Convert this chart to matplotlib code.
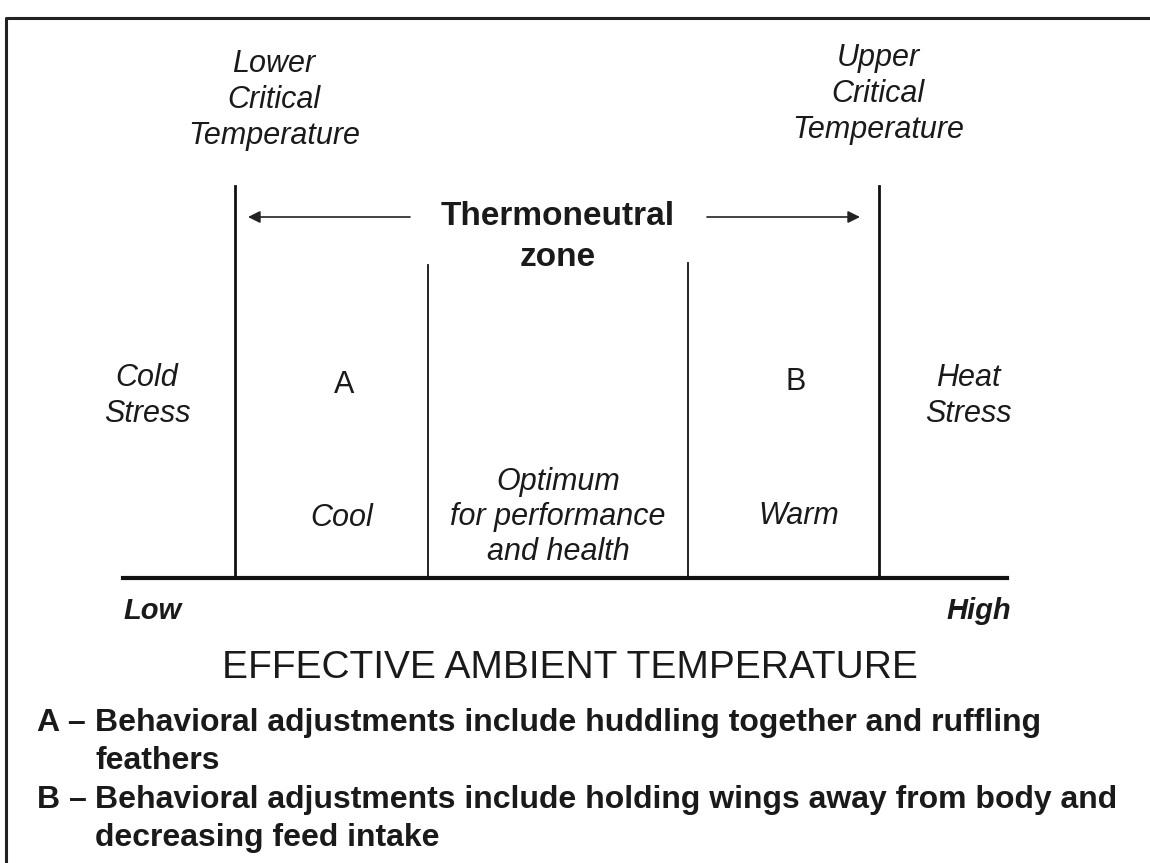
import matplotlib.pyplot as plt

# zone boundaries along the temperature axis (diagram units, low -> high)
boundaries = [235, 428, 688, 879]
boundary_tops = [186, 265, 263, 186]
axis_span = (123, 1007)
axis_y = 578

critical_labels = ["Lower\nCritical\nTemperature", "Upper\nCritical\nTemperature"]
zone_labels = ["Cold\nStress", "A", "B", "Heat\nStress"]
zone_comments = ["Cool", "Optimum\nfor performance\nand health", "Warm"]
note_keys = ["A \u2013", "B \u2013"]
notes = [
    ["Behavioral adjustments include huddling together and ruffling", "feathers"],
    ["Behavioral adjustments include holding wings away from body and",
     "decreasing feed intake"],
]

sans = "Liberation Sans"
ink = "#1a1a1a"

fig = plt.figure(figsize=(11.5, 8.63), dpi=100)
ax = fig.add_axes([0, 0, 1, 1])
ax.set_xlim(0, 1150)
ax.set_ylim(863, 0)
ax.axis("off")

# outer frame (only left and top visible)
ax.plot([6, 6, 1150], [863, 18, 18], color="#222222", lw=2.2, solid_capstyle="butt")

# baseline
ax.plot(axis_span, [axis_y, axis_y], color="#111111", lw=3)

# vertical zone lines
for x, top in zip(boundaries, boundary_tops):
    lw = 2.0 if top < 200 else 1.3
    ax.plot([x, x], [top, axis_y], color="#111111", lw=lw)

# arrows for thermoneutral zone
arrow = dict(arrowstyle="-|>", color="#222222", lw=1.2,
             mutation_scale=18, shrinkA=0, shrinkB=0)
ax.annotate("", xy=(boundaries[0] + 13, 217), xytext=(410, 217), arrowprops=arrow)
ax.annotate("", xy=(boundaries[3] - 19, 217), xytext=(707, 217), arrowprops=arrow)

ax.text(558, 237, "Thermoneutral\nzone", ha="center", va="center",
        fontsize=24, fontweight="bold", family=sans, linespacing=1.38, color=ink)

# critical temperature labels
for x, y, t in zip([274, 878], [100, 94], critical_labels):
    ax.text(x, y, t, ha="center", va="center", fontsize=22, style="italic",
            family=sans, linespacing=1.24, color=ink)

# zone labels
for x, y, t in zip([147, 344, 796, 968], [396, 385, 382, 396], zone_labels):
    two = "\n" in t
    ax.text(x, y, t, ha="center", va="center", fontsize=22,
            style="italic" if two else "normal",
            family=sans, linespacing=1.22, color=ink)

for x, y, t in zip([342, 558, 799], [518, 517, 516], zone_comments):
    ax.text(x, y, t, ha="center", va="center", fontsize=22, style="italic",
            family=sans, linespacing=1.22, color=ink)

# axis ends
ax.text(axis_span[0], 611, "Low", ha="left", va="center", fontsize=21,
        fontweight="bold", style="italic", family=sans, color=ink)
ax.text(axis_span[1] + 4, 611, "High", ha="right", va="center", fontsize=21,
        fontweight="bold", style="italic", family=sans, color=ink)

ax.text(570, 668, "EFFECTIVE AMBIENT TEMPERATURE", ha="center", va="center",
        fontsize=28, family=sans, color=ink)

# notes below the diagram
for y0, key, lines in zip([723, 800], note_keys, notes):
    ax.text(37, y0, key, ha="left", va="center", fontsize=23,
            fontweight="bold", family=sans, color=ink)
    for i, line in enumerate(lines):
        ax.text(95, y0 + 38 * i, line, ha="left", va="center", fontsize=23,
                fontweight="bold", family=sans, color=ink)

fig.savefig("out.png", dpi=100, facecolor="white")
